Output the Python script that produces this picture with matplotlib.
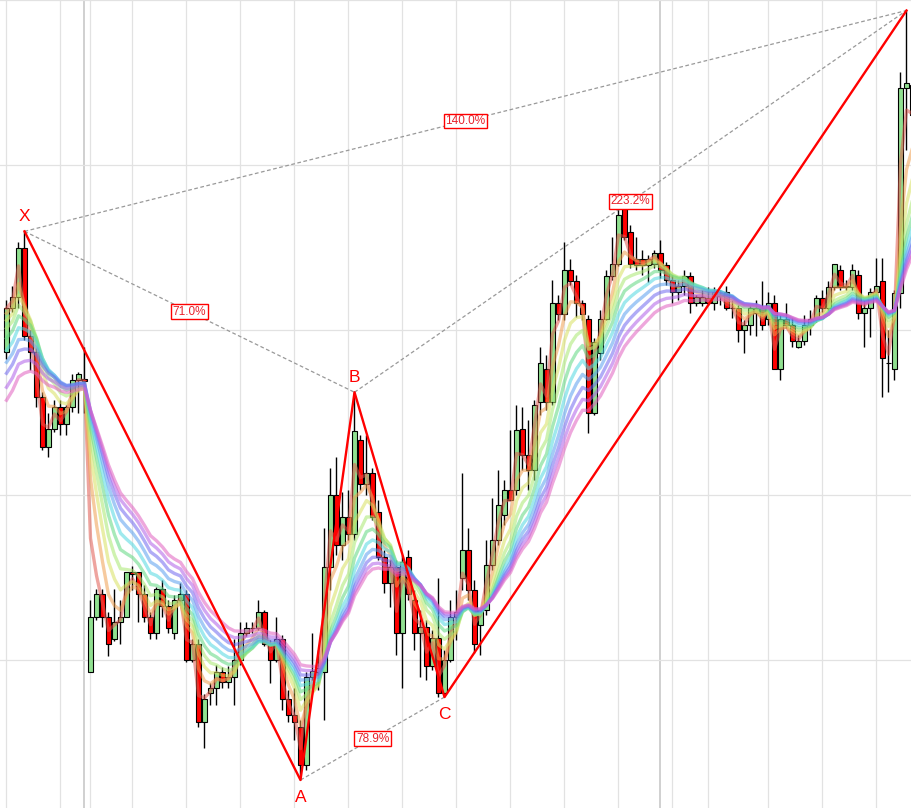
import numpy as np
import matplotlib
matplotlib.use('Agg')
import matplotlib.pyplot as plt

# ---------------- data (chart price units) ----------------
opens = [648,692,703,752,664,648,603,553,571,593,
         576,593,620,621,328,383,406,383,361,378,
         383,428,428,406,383,367,411,394,367,400,
         406,340,356,278,307,312,328,318,323,340,
         367,372,372,388,356,340,361,301,285,273,
         235,323,328,328,433,505,455,483,466,560,
         516,527,488,443,417,433,367,443,400,367,
         373,334,362,307,340,383,422,450,410,375,
         390,435,460,485,510,510,571,545,530,598,
         631,598,697,686,730,719,697,681,587,647,
         681,724,736,791,768,741,741,735,736,747,
         735,720,708,714,724,697,697,702,697,705,
         708,692,692,670,675,687,692,681,697,631,
         681,675,653,659,675,681,702,692,713,730,
         714,713,725,687,692,708,719,637,631,707,
         912,915]
highs = [700,714,758,769,670,652,608,587,600,600,
         595,626,628,653,400,411,411,388,411,400,
         428,434,428,415,388,413,420,400,405,417,
         410,361,361,306,317,335,333,334,361,378,
         378,378,400,390,360,383,365,310,312,280,
         328,367,350,472,532,543,508,510,608,565,
         565,532,500,450,440,440,445,450,410,390,
         380,370,422,350,400,410,527,472,420,390,
         460,502,530,520,570,595,593,580,600,653,
         645,720,705,758,741,725,700,685,662,690,
         730,763,795,795,775,763,750,745,750,760,
         738,725,720,730,728,705,710,713,713,710,
         714,700,695,680,695,700,719,708,705,685,
         697,682,665,685,690,705,710,719,736,735,
         720,736,730,700,712,742,742,670,710,928,
         990,920]
lows = [641,688,692,660,630,593,550,543,568,565,
        565,588,587,587,328,380,373,344,359,356,
        383,410,378,378,361,361,383,367,361,395,
        338,338,273,252,295,295,312,312,295,335,
        364,367,370,354,317,338,290,278,260,220,
        230,320,310,280,410,445,440,460,460,510,
        505,480,440,407,393,345,312,400,350,323,
        320,330,303,303,338,360,410,400,347,345,
        385,430,455,475,500,505,530,510,520,585,
        590,595,680,680,715,683,680,567,585,640,
        680,720,734,760,732,730,725,718,732,722,
        715,697,700,705,687,694,694,695,690,695,
        690,682,658,647,665,664,670,675,631,620,
        672,653,652,655,665,678,688,690,710,710,
        710,710,681,653,663,700,603,608,620,692,
        850,875]
closes = [692,703,752,664,648,603,553,571,593,576,
          593,620,626,619,383,406,383,356,378,383,
          428,426,406,383,367,411,394,372,400,406,
          340,356,278,301,312,328,318,323,340,367,
          372,372,388,356,340,361,301,285,278,235,
          323,329,332,433,505,455,483,466,569,516,
          527,483,443,417,433,367,438,406,367,373,
          334,362,307,340,383,388,450,410,356,390,
          435,460,495,510,500,570,545,530,595,637,
          598,697,686,730,719,697,686,587,658,681,
          724,736,785,763,736,735,735,741,747,730,
          720,708,714,724,697,703,703,697,708,704,
          692,692,670,675,692,692,675,697,631,681,
          675,659,659,675,681,702,692,713,736,713,
          713,730,687,692,708,714,642,637,707,912,
          917,885]

# rainbow moving averages: periods and values at the left edge
ma_periods = [2, 4, 6, 8, 10, 12, 14, 16, 18, 20]
ma_start = [692, 687, 680, 672, 662, 650, 638, 627, 613, 600]
ma_colors = ['#e05a50', '#f0a050', '#d8e060', '#a8e870', '#60d880',
             '#50d8e0', '#5aa0f0', '#7068f0', '#b060e8', '#e060c0']

# harmonic pattern pivots (bar index, point name, which price)
pivot_bars = [4, 50, 59, 74, 151]
pivot_names = ['X', 'A', 'B', 'C', 'D']
pivot_kind = ['high', 'low', 'high', 'low', 'high']
# dashed ratio lines (pivot index pairs) and their labels
ratio_pairs = [(0, 2), (0, 4), (2, 4), (1, 3)]
ratio_labels = ['71.0%', '140.0%', '223.2%', '78.9%']

# grid
grid_x = [1, 10, 15, 22, 31, 40, 49, 58, 67, 76, 85, 94, 103, 112, 118, 128, 137, 146]
grid_x_dark = [14, 110]
grid_y = [340, 505, 670, 835, 1000]

# ---------------- drawing ----------------
fig = plt.figure(figsize=(9.12, 8.08), dpi=100)
ax = fig.add_axes([0, 0, 1, 1])
ax.set_xlim(-0.5 / 6, 152 - 0.5 / 6)
ax.set_ylim(192, 1000.5)
for s in ax.spines.values():
    s.set_visible(False)
ax.set_xticks([])
ax.set_yticks([])

for gx in grid_x:
    ax.axvline(gx, color='#e2e2e2', lw=0.9, zorder=0)
for gx in grid_x_dark:
    ax.axvline(gx, color='#c4c4c4', lw=1.1, zorder=0)
for gy in grid_y:
    ax.axhline(gy, color='#e2e2e2', lw=0.9, zorder=0)

o = np.array(opens, float)
h = np.array(highs, float)
l = np.array(lows, float)
c = np.array(closes, float)
x = np.arange(1, len(o) + 1)

ax.vlines(x, l, h, color='black', lw=1.0, zorder=2)
up = c >= o
cols = np.where(up, '#90e090', '#ff0000')
ax.bar(x, c - o, bottom=o, width=0.68, color=cols, edgecolor='black',
       linewidth=0.8, zorder=3)

for per, start, col in zip(ma_periods, ma_start, ma_colors):
    a = 2.0 / (per + 1.0)
    ema = np.empty_like(c)
    ema[0] = start
    for i in range(1, len(c)):
        ema[i] = a * c[i] + (1 - a) * ema[i - 1]
    ax.plot(x, ema, color=col, lw=2.4, alpha=0.55, zorder=4,
            solid_joinstyle='round')

px = [pb for pb in pivot_bars]
py = [highs[pb - 1] if k == 'high' else lows[pb - 1] for pb, k in zip(pivot_bars, pivot_kind)]

for (i, j), lab in zip(ratio_pairs, ratio_labels):
    ax.plot([px[i], px[j]], [py[i], py[j]], color='#999999', lw=0.9,
            dashes=(3, 2), zorder=5)
    mx, my = (px[i] + px[j]) / 2, (py[i] + py[j]) / 2
    ax.text(mx, my, lab, color='#e8202a', fontsize=8.5, family='Liberation Sans',
            ha='center', va='center', zorder=8,
            bbox=dict(boxstyle='square,pad=0.12', fc='white', ec='#ff0000', lw=1.0))

ax.plot(px, py, color='#ff0000', lw=1.7, zorder=6)

for xx, yy, name, kind in zip(px, py, pivot_names, pivot_kind):
    off = 15 if kind == 'high' else -17
    ax.annotate(name, (xx, yy), xytext=(0, off), textcoords='offset pixels',
                ha='center', va='center', color='#ff0000', fontsize=12.5,
                family='Liberation Sans', zorder=9, annotation_clip=False)

fig.savefig('out.png', dpi=100)
